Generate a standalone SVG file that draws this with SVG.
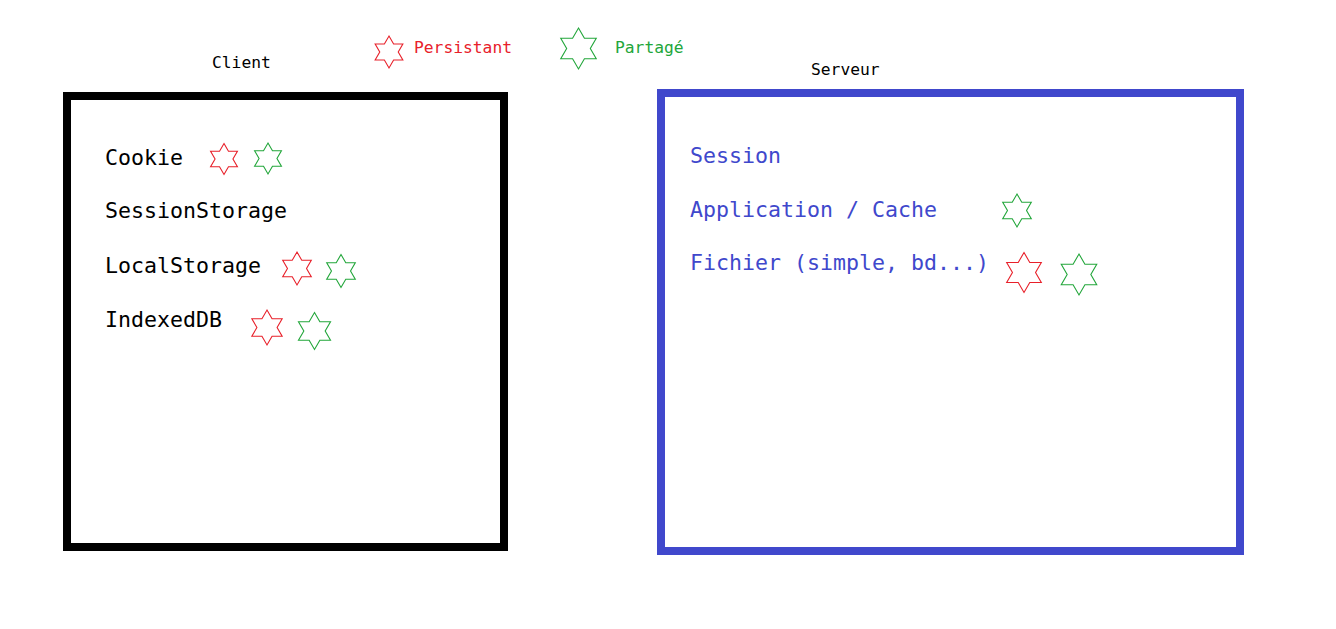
<svg xmlns="http://www.w3.org/2000/svg" xmlns:xlink="http://www.w3.org/1999/xlink" width="1336" height="629" viewBox="0 0 1336 629">
<style>
text{font-family:"DejaVu Sans Mono","Liberation Mono",monospace;}
.lbl{font-size:16.3px;fill:#000;}
.item{font-size:21.6px;fill:#000;}
.srv{font-size:21.6px;fill:#4048cc;}
.leg{font-size:16.3px;}
.star{fill:none;stroke-width:1.1;}
.red{stroke:#e8202a;}
.green{stroke:#22a63a;}
#star{vector-effect:non-scaling-stroke;}
</style>
<defs>
<polygon id="star" vector-effect="non-scaling-stroke" points="0,-10 2.887,-5 8.66,-5 5.77,0 8.66,5 2.887,5 0,10 -2.887,5 -8.66,5 -5.77,0 -8.66,-5 -2.887,-5"/>
</defs>
<rect width="1336" height="629" fill="#fff"/>
<g id="legend">
<use xlink:href="#star" class="star red" transform="translate(389,52) scale(1.6)"/>
<text class="leg" x="414" y="53" fill="#e8202a">Persistant</text>
<use xlink:href="#star" class="star green" transform="translate(578.5,48.5) scale(2.05)"/>
<text class="leg" x="615" y="53" fill="#22a63a">Partagé</text>
</g>
<g id="client">
<text class="lbl" x="212" y="68">Client</text>
<rect x="67" y="96" width="437" height="451" fill="none" stroke="#000" stroke-width="8"/>
<text class="item" x="105" y="165">Cookie</text>
<text class="item" x="105" y="218">SessionStorage</text>
<text class="item" x="105" y="273">LocalStorage</text>
<text class="item" x="105" y="327">IndexedDB</text>
<use xlink:href="#star" class="star red" transform="translate(224,159) scale(1.55)"/>
<use xlink:href="#star" class="star green" transform="translate(268,158.5) scale(1.55)"/>
<use xlink:href="#star" class="star red" transform="translate(297,268.5) scale(1.65)"/>
<use xlink:href="#star" class="star green" transform="translate(341,271) scale(1.65)"/>
<use xlink:href="#star" class="star red" transform="translate(267,327.5) scale(1.75)"/>
<use xlink:href="#star" class="star green" transform="translate(314.5,331) scale(1.85)"/>
</g>
<g id="serveur">
<text class="lbl" x="811" y="75">Serveur</text>
<rect x="661" y="93" width="579" height="458" fill="none" stroke="#4048cc" stroke-width="8"/>
<text class="srv" x="690" y="163">Session</text>
<text class="srv" x="690" y="217">Application / Cache</text>
<text class="srv" x="690" y="270">Fichier (simple, bd...)</text>
<use xlink:href="#star" class="star green" transform="translate(1017,210.5) scale(1.65)"/>
<use xlink:href="#star" class="star red" transform="translate(1024,272.5) scale(2.0)"/>
<use xlink:href="#star" class="star green" transform="translate(1079,274.5) scale(2.05)"/>
</g>
<g id="connectors"></g>
</svg>
